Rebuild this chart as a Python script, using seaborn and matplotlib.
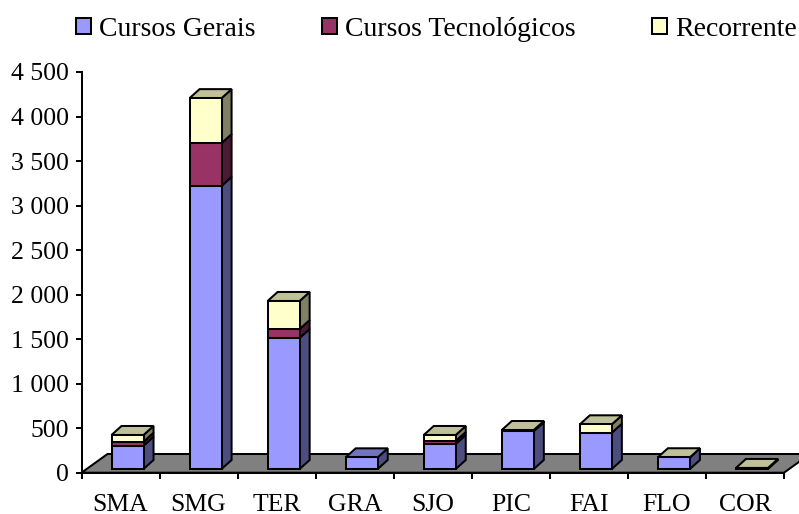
import matplotlib.pyplot as plt
import numpy as np
import pandas as pd
import seaborn as sns
from matplotlib.patches import Patch, Polygon
from matplotlib.ticker import FuncFormatter

sns.set_style("white")
plt.rcParams["font.family"] = ["Liberation Serif", "DejaVu Serif"]

concelhos = ["SMA", "SMG", "TER", "GRA", "SJO", "PIC", "FAI", "FLO", "COR"]
gerais = [262, 3180, 1472, 131, 281, 425, 408, 131, 0]
tecnologicos = [45, 480, 100, 0, 34, 8, 0, 0, 0]
recorrente = [75, 505, 315, 0, 67, 5, 94, 1, 12]
nomes = ["Cursos Gerais", "Cursos Tecnológicos", "Recorrente"]
cores = ["#9999FF", "#993366", "#FFFFCC"]

W, H = 799, 514
LW = 1.45
fig = plt.figure(figsize=(W / 100, H / 100), dpi=100)
ax = fig.add_axes([81.5 / W, 1 - 472.7 / H, (784 - 81.5) / W, (472.7 - 72) / H])
ax.set_ylim(0, 4500)
ax.set_xlim(-0.5, 8.5)

# pseudo 3D depth, in data units
px_x = 9 / (784 - 81.5)
px_y = 4500 / (472.7 - 72)
floor_dx, floor_dy = 26 * px_x, 18.7 * px_y
bar_dx, bar_dy = 10 * px_x, 9 * px_y
base = 3.7 * px_y
shift = 7 * px_x

ax.add_patch(Polygon(
    [(-0.5, 0), (-0.5 + floor_dx, floor_dy), (8.5 + floor_dx, floor_dy), (8.5, 0)],
    closed=True, facecolor="#808080", edgecolor="black", linewidth=LW,
    clip_on=False, zorder=1,
))

df = pd.DataFrame({"concelho": concelhos, "g": gerais, "t": tecnologicos, "r": recorrente})
bottoms = np.full(len(df), base, dtype=float)
stacks = []
for col, cor in zip(["g", "t", "r"], cores):
    n = len(ax.patches)
    sns.barplot(data=df, x="concelho", y=col, color=cor, saturation=1, width=0.41,
                bottom=bottoms, edgecolor="black", linewidth=LW, ax=ax, zorder=3)
    stacks.append(ax.patches[n:])
    bottoms = bottoms + df[col].to_numpy()

ax.set_xlim(-0.5, 8.5)
ax.set_ylim(0, 4500)


def shade(rgb, f):
    return tuple(c * f for c in rgb[:3])


for i in range(len(concelhos)):
    top = None
    for s in stacks:
        p = s[i]
        p.set_x(p.get_x() + shift)
        x1 = p.get_x() + p.get_width()
        y0, h = p.get_y(), p.get_height()
        if h > 0:
            top = p
            ax.add_patch(Polygon(
                [(x1, y0), (x1 + bar_dx, y0 + bar_dy), (x1 + bar_dx, y0 + h + bar_dy), (x1, y0 + h)],
                closed=True, facecolor=shade(p.get_facecolor(), 0.5), edgecolor="black",
                linewidth=LW, zorder=2.5, clip_on=False,
            ))
    x0, w = top.get_x(), top.get_width()
    yt = top.get_y() + top.get_height()
    ax.add_patch(Polygon(
        [(x0, yt), (x0 + bar_dx, yt + bar_dy), (x0 + w + bar_dx, yt + bar_dy), (x0 + w, yt)],
        closed=True, facecolor=shade(top.get_facecolor(), 0.75), edgecolor="black",
        linewidth=LW, zorder=2.5, clip_on=False,
    ))

sns.despine(ax=ax)
for side in ["left", "bottom"]:
    ax.spines[side].set_color("black")
    ax.spines[side].set_linewidth(LW)
    ax.spines[side].set_zorder(2)

ax.set_xlabel("")
ax.set_ylabel("")
ax.set_yticks(np.arange(0, 4501, 500))
ax.yaxis.set_major_formatter(FuncFormatter(lambda v, _: f"{int(v):,}".replace(",", " ")))
ax.set_xticks(np.arange(-0.5, 9, 1))
ax.set_xticklabels([])
ax.set_xticks(range(9), concelhos, minor=True)
ax.tick_params(axis="y", length=4, width=LW, color="black", left=True,
               labelsize=18.5, labelcolor="black", pad=5)
ax.tick_params(axis="x", which="major", length=4, width=LW, color="black", bottom=True)
ax.tick_params(axis="x", which="minor", length=0, labelsize=18.5, labelcolor="black", pad=15)

# one legend per entry, the original spaces them unevenly
for nome, cor, x in zip(nomes, cores, [76, 322, 652]):
    fig.legend([Patch(facecolor=cor, edgecolor="black", linewidth=LW)], [nome],
               loc="upper left", bbox_to_anchor=(x / W, 1 - 16.5 / H),
               frameon=False, fontsize=20, borderpad=0, borderaxespad=0,
               handlelength=0.54, handleheight=0.52, handletextpad=0.3,
               labelcolor="black")

fig.savefig("out.png", dpi=100)
